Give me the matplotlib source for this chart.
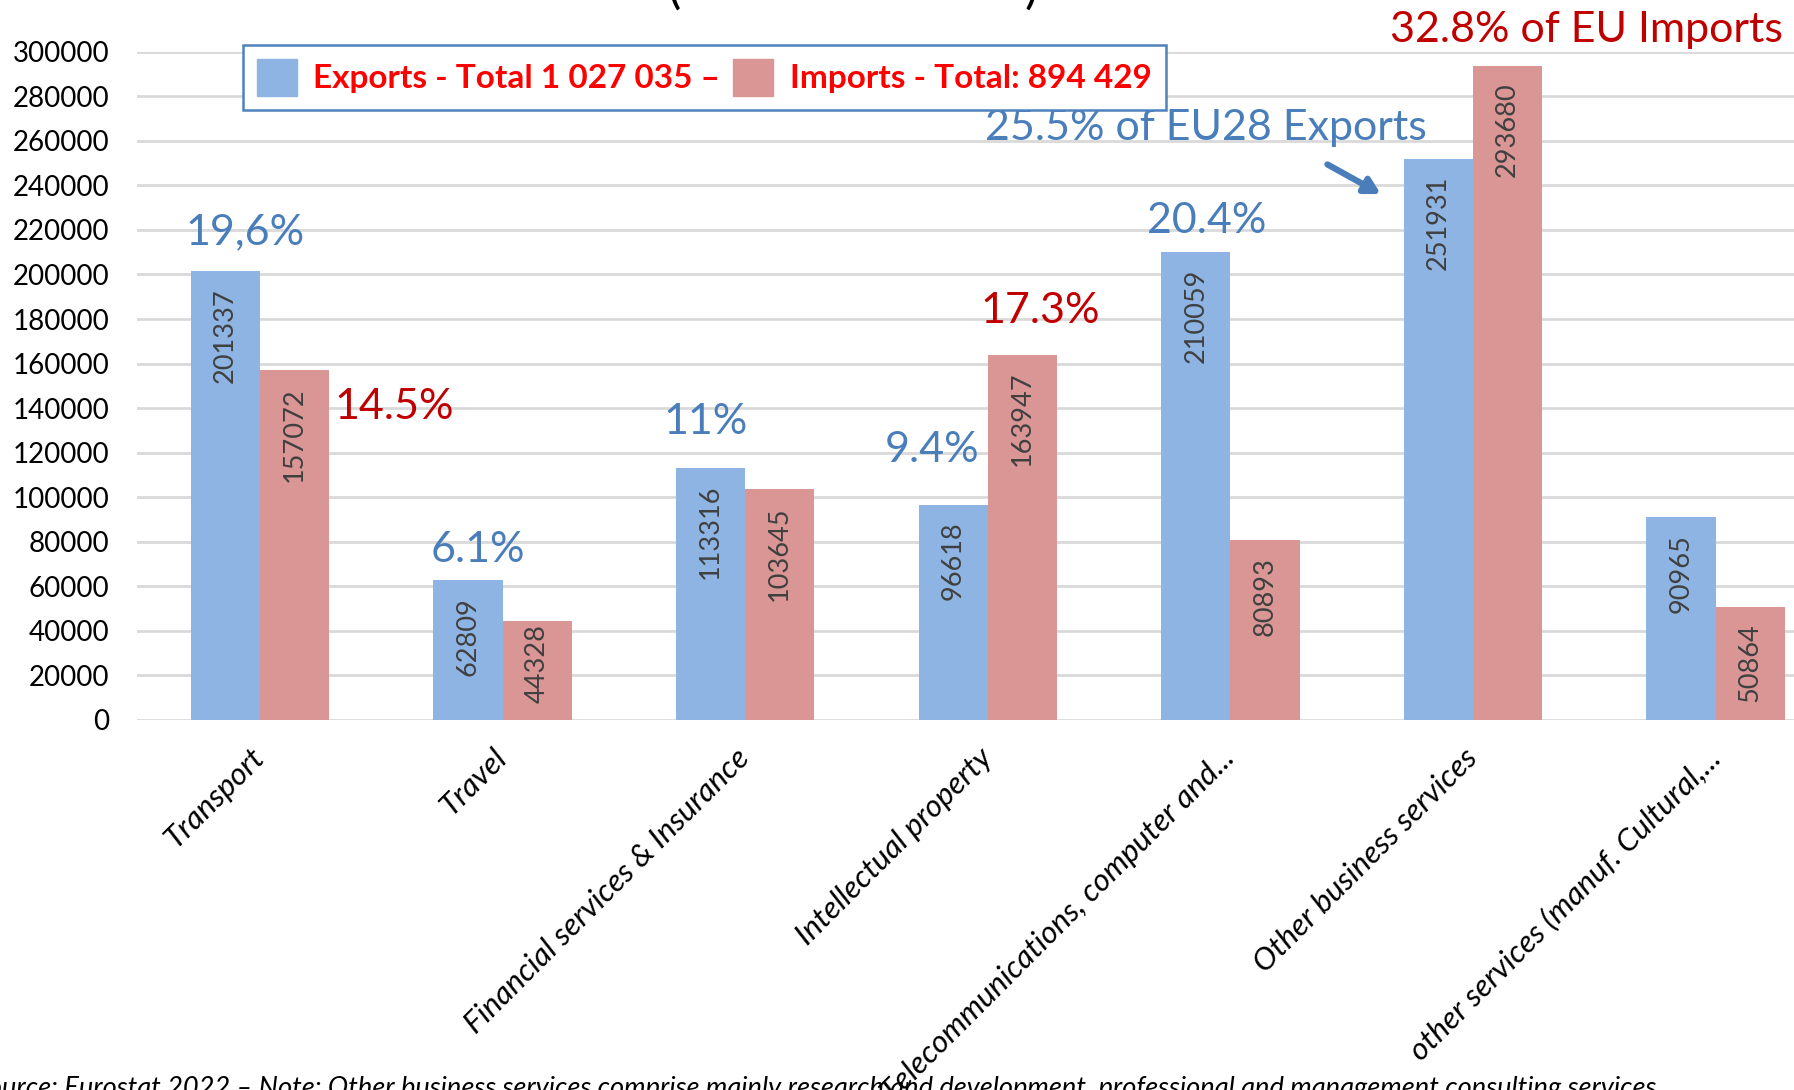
import numpy as np
import matplotlib.pyplot as plt
from matplotlib.patches import Patch

plt.rcParams['font.family'] = ['Lato', 'DejaVu Sans']

categories = ['Transport', 'Travel', 'Financial services & Insurance',
              'Intellectual property', 'Telecommunications, computer and...',
              'Other business services', 'other services (manuf. Cultural,...']
exports = [201337, 62809, 113316, 96618, 210059, 251931, 90965]
imports = [157072, 44328, 103645, 163947, 80893, 293680, 50864]

exp_label = 'Exports - Total 1 027 035 \u2013'
imp_label = 'Imports - Total: 894 429'

# share labels: (text, x, y, colour)
shares = [('19,6%', -0.06, 219000, 'blue'),
          ('14.5%', 0.552, 140500, 'red'),
          ('6.1%', 0.899, 76300, 'blue'),
          ('11%', 1.838, 133800, 'blue'),
          ('9.4%', 2.77, 121200, 'blue'),
          ('17.3%', 3.215, 183600, 'red'),
          ('20.4%', 3.903, 224000, 'blue'),
          ('25.5% of EU28 Exports', 3.90, 265700, 'blue'),
          ('32.8% of EU Imports', 5.466, 309700, 'red')]

note = ('Source: Eurostat 2022 \u2013 Note: Other business services comprise mainly '
        'research and development, professional and management consulting services')

c_exp = '#8EB4E3'
c_imp = '#D99694'
c_blue = '#4A7EBB'
c_red = '#C00000'

W, H = 1794, 1090
fig = plt.figure(figsize=(W / 100, H / 100), dpi=100)
ax = fig.add_axes([137 / W, 1 - 720 / H, 1 - 137 / W, (720 - 51.7) / H])

x = np.arange(len(categories))
w = 0.285
b1 = ax.bar(x - w / 2, exports, w, color=c_exp, zorder=2)
b2 = ax.bar(x + w / 2, imports, w, color=c_imp, zorder=2)

ax.set_xlim(-0.507, (W - 260) / 242.6)
ax.set_ylim(0, 300000)
ax.set_yticks(np.arange(0, 300001, 20000))
ax.tick_params(axis='y', length=0, pad=20, labelsize=20)
ax.grid(axis='y', color='#D9D9D9', linewidth=2, zorder=0)
ax.set_axisbelow(True)
for s in ax.spines.values():
    s.set_visible(False)

ax.set_xticks(x)
ax.set_xticklabels(categories, rotation=45, ha='right', rotation_mode='anchor',
                   va='center', fontsize=22.5, style='italic')
ax.tick_params(axis='x', length=0, pad=24)

# value labels inside the bars
per_px = 300000 / (720 - 51.7)
pad = 17 * per_px
for bars, vals in ((b1, exports), (b2, imports)):
    for r, v in zip(bars, vals):
        txt = str(v)
        length = len(txt) * 15.7 * per_px
        top = max(v - pad, length + pad)
        ax.text(r.get_x() + r.get_width() / 2, top, txt, rotation=90,
                ha='center', va='top', fontsize=19.5, color='#404040', zorder=3)

for txt, xx, yy, c in shares:
    ax.text(xx, yy, txt, ha='center', va='center', fontsize=31,
            color=c_blue if c == 'blue' else c_red, clip_on=False, zorder=4)

ax.annotate('', xy=(4.63, 235500), xytext=(4.39, 250000),
            arrowprops=dict(arrowstyle='-|>,head_length=0.9,head_width=0.5',
                            color=c_blue, lw=4.5), zorder=4)

handles = [Patch(color=c_exp), Patch(color=c_imp)]
leg = fig.legend(handles, [exp_label, imp_label], ncol=2, loc='upper left',
                 bbox_to_anchor=(242.5 / W, 1 - 44.6 / H),
                 prop={'weight': 'bold', 'size': 24}, labelcolor='#FF0000',
                 frameon=True, fancybox=False, edgecolor='#4F81BD',
                 framealpha=1, handlelength=1.2, handleheight=1.35,
                 handletextpad=0.5, columnspacing=0.4, borderpad=0.42,
                 borderaxespad=0)
leg.get_frame().set_linewidth(1.8)

# bits of the title cut off at the top edge
fig.text(674 / W, 1 - 3 / H, '(', fontsize=36, ha='center', va='baseline')
fig.text(1031 / W, 1 - 3 / H, ')', fontsize=36, ha='center', va='baseline')

fig.text(-26 / W, -6 / H, note, fontsize=19.6, style='italic', ha='left',
         va='baseline')

fig.savefig('out.png', dpi=100)
